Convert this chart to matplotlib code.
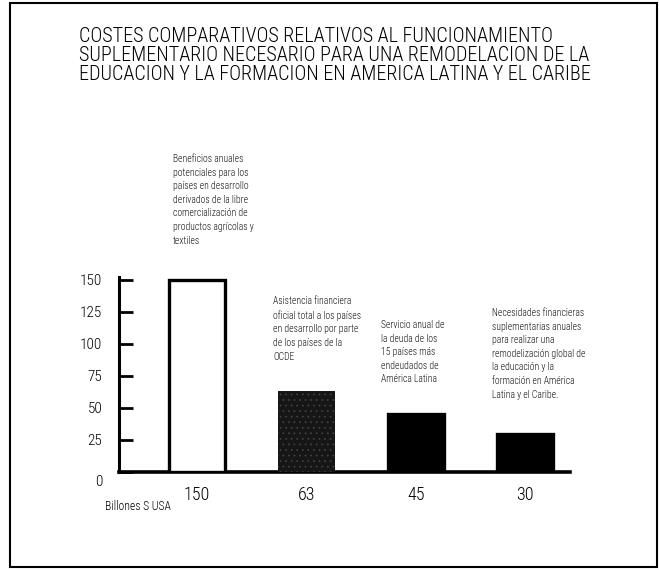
import matplotlib
matplotlib.use("Agg")
import matplotlib.pyplot as plt
from matplotlib.transforms import ScaledTranslation
from matplotlib.patches import Rectangle

# ---- data ----
categories = ["Beneficios", "Asistencia", "Servicio", "Necesidades"]
values = [150, 63, 45, 30]
value_labels = ["150", "63", "45", "30"]
yticks = [0, 25, 50, 75, 100, 125, 150]
unit_label = "Billones S USA"
title_lines = [
    "COSTES COMPARATIVOS RELATIVOS AL FUNCIONAMIENTO",
    "SUPLEMENTARIO NECESARIO PARA UNA REMODELACION DE LA",
    "EDUCACION Y LA FORMACION EN AMERICA LATINA Y EL CARIBE",
]
notes = [
    "Beneficios anuales\npotenciales para los\npaíses en desarrollo\nderivados de la libre\ncomercialización de\nproductos agrícolas y\ntextiles",
    "Asistencia financiera\noficial total a los países\nen desarrollo por parte\nde los países de la\nOCDE",
    "Servicio anual de\nla deuda de los\n15 países más\nendeudados de\nAmérica Latina",
    "Necesidades financieras\nsuplementarias anuales\npara realizar una\nremodelización global de\nla educación y la\nformación en América\nLatina y el Caribe.",
]

FONT = ["Roboto Condensed", "Archivo Narrow", "Liberation Sans", "DejaVu Sans"]
plt.rcParams["font.family"] = FONT
plt.rcParams["hatch.linewidth"] = 0.5

W, H = 659, 570
fig = plt.figure(figsize=(W / 100, H / 100), dpi=100)


def fx(x):
    return x / W


def fy(y):
    return 1 - y / H


# outer frame
fig.patches.append(Rectangle((fx(10), fy(567)), fx(657) - fx(10), fy(3) - fy(567),
                             transform=fig.transFigure, fill=False,
                             edgecolor="black", linewidth=1.5))

# title
fig.text(fx(79), fy(27), "\n".join(title_lines), ha="left", va="top",
         fontsize=14.5, fontweight="light", linespacing=1.0, color="black")

# axes
ax_left, ax_right, ax_bottom, ax_top = 119, 570, 472, 277
ax = fig.add_axes([fx(ax_left), fy(ax_bottom), fx(ax_right) - fx(ax_left),
                   fy(ax_top) - fy(ax_bottom)])
x = list(range(len(values)))
ax.set_xlim(-0.715, 3.41)
ax.set_ylim(0, 152)
for s in ["top", "right"]:
    ax.spines[s].set_visible(False)
ax.spines["left"].set_linewidth(2.2)
ax.spines["bottom"].set_linewidth(2.6)

faces = ["white", "#161616", "black", "black"]
bars = ax.bar(x, values, width=0.515, color=faces, edgecolor="black",
              linewidth=2.4, zorder=3)
bars[1].set_hatch("...")
bars[1].set_edgecolor("#444444")
bars[1].set_linewidth(0)

ax.set_xticks([])
ax.set_yticks(yticks)
ax.set_yticklabels([str(v) for v in yticks])
ax.tick_params(axis="y", direction="in", length=10, width=2, pad=12,
               labelsize=11)
for lab in ax.get_yticklabels():
    lab.set_fontweight("light")
lab0 = ax.get_yticklabels()[0]
lab0.set_transform(lab0.get_transform() + ScaledTranslation(0, -8 / 100, fig.dpi_scale_trans))

for xi, lbl in zip(x, value_labels):
    ax.annotate(lbl, xy=(xi, 0), xytext=(0, -23), textcoords="offset pixels",
                ha="center", va="center", fontsize=13, fontweight="light")

fig.text(fx(105), fy(507), unit_label, ha="left", va="center", fontsize=8.5,
         fontweight="light")

note_pos = [(173, 154), (273, 296), (381, 320), (492, 308)]
for (nx, ny), txt in zip(note_pos, notes):
    fig.text(fx(nx), fy(ny), txt, ha="left", va="top", fontsize=6.9,
             fontweight="light", linespacing=1.45, color="#111111")

fig.savefig("out.png", dpi=100)
